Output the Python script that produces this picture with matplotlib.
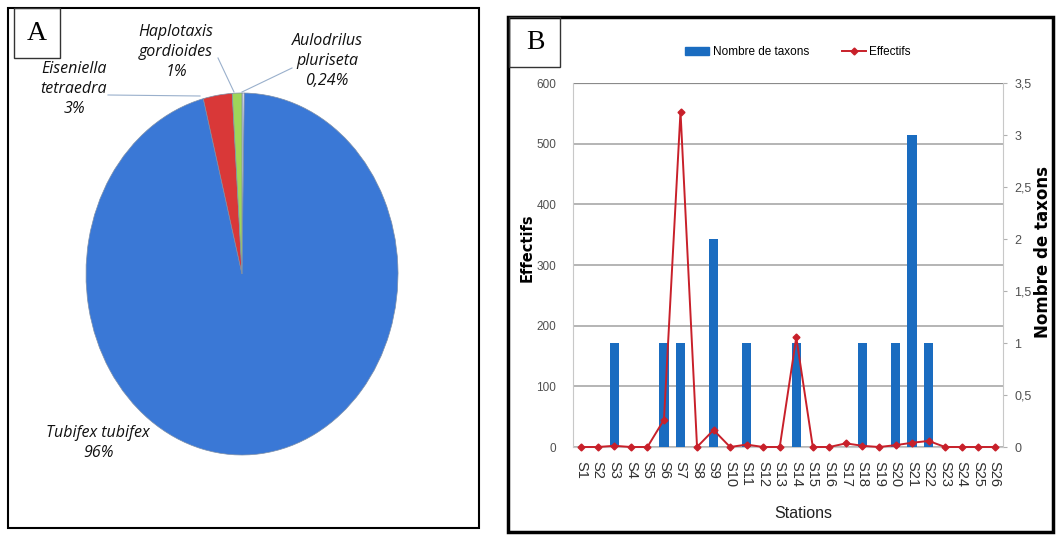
import numpy as np
import matplotlib.pyplot as plt
from matplotlib.patches import Rectangle, Patch
from matplotlib.lines import Line2D

narrow = 'Liberation Sans'

# Panel A data (pie)
species = ['Aulodrilus\npluriseta', 'Tubifex tubifex', 'Eiseniella\ntetraedra', 'Haplotaxis\ngordioides']
percent = [0.24, 96, 3, 1]
pct_labels = ['0,24%', '96%', '3%', '1%']
pie_colors = ['#dcdce8', '#3a78d6', '#d93838', '#9fd55a']

# Panel B data
stations = ['S%d' % i for i in range(1, 27)]
effectifs = [0, 0, 2, 0, 0, 45, 553, 0, 28, 0, 4, 0, 0, 181, 0, 0, 6, 2, 0, 3, 7, 10, 0, 0, 0, 0]
taxons = [0, 0, 1, 0, 0, 1, 1, 0, 2, 0, 1, 0, 0, 1, 0, 0, 0, 1, 0, 1, 3, 1, 0, 0, 0, 0]

W, H = 1057, 536
fig = plt.figure(figsize=(W / 100, H / 100), dpi=100)


def fx(px):
    return px / W


def fy(py):
    return 1 - py / H


# ---------------- Panel A ----------------
fig.add_artist(Rectangle((fx(8), fy(528)), fx(471), 520 / H, transform=fig.transFigure,
                         fill=False, lw=1.5, ec='black'))
fig.add_artist(Rectangle((fx(14), fy(58)), fx(46), 50 / H, transform=fig.transFigure,
                         fill=False, lw=1, ec='#333333'))
fig.text(fx(37), fy(34), 'A', ha='center', va='center', fontsize=20, family='Liberation Serif')

cx, cy, rx, ry = 242, 274, 156, 181
axp = fig.add_axes([fx(cx - rx), fy(cy + ry), 2 * rx / W, 2 * ry / H])
wedges, _ = axp.pie(percent, colors=pie_colors, startangle=90, counterclock=False,
                    wedgeprops=dict(linewidth=0.5, edgecolor='#7d8fa8'))
axp.set_aspect('auto')
axp.set_xlim(-1, 1)
axp.set_ylim(-1, 1)
axp.axis('off')

lab_font = dict(family='Open Sans', style='italic', fontsize=11.5, color='#111111',
                ha='center', va='center', linespacing=1.3)
fig.text(fx(74), fy(89), species[2] + '\n' + pct_labels[2], **lab_font)
fig.text(fx(176), fy(52), species[3] + '\n' + pct_labels[3], **lab_font)
fig.text(fx(327), fy(61), species[0] + '\n' + pct_labels[0], **lab_font)
fig.text(fx(98), fy(443), species[1] + '\n' + pct_labels[1], **lab_font)

# leader lines
for (x1, y1), (x2, y2) in [((108, 95), (200, 96)), ((218, 58), (234, 92)), ((292, 68), (242, 92))]:
    fig.add_artist(Line2D([fx(x1), fx(x2)], [fy(y1), fy(y2)], transform=fig.transFigure,
                          color='#9ab0cc', lw=0.8))

# ---------------- Panel B ----------------
fig.add_artist(Rectangle((fx(508), fy(532)), fx(545), 515 / H, transform=fig.transFigure,
                         fill=False, lw=2.5, ec='black'))
fig.add_artist(Rectangle((fx(509), fy(67)), fx(51), 50 / H, transform=fig.transFigure,
                         fill=False, lw=1, ec='#333333'))
fig.text(fx(535), fy(42), 'B', ha='center', va='center', fontsize=20, family='Liberation Serif')

pos = [fx(573), fy(447), 430 / W, 364 / H]
x = np.arange(1, len(stations) + 1)

ax = fig.add_axes(pos)
ax.set_xlim(0.5, 26.5)
ax.set_ylim(0, 600)
ax.set_yticks(range(0, 601, 100))
ax.grid(axis='y', color='#a8a8a8', lw=1.2)
ax.set_axisbelow(True)
for s in ['top', 'right']:
    ax.spines[s].set_visible(False)
ax.spines['left'].set_color('#c8c8c8')
ax.spines['bottom'].set_color('#c8c8c8')
ax.tick_params(axis='y', length=0, pad=12, labelsize=8.5, labelcolor='#505050')
for t in ax.get_yticklabels():
    t.set_family(narrow)
ax.set_xticks(x)
ax.set_xticklabels(stations, rotation=270, fontsize=10.5, family=narrow, color='#303030')
ax.tick_params(axis='x', length=0, pad=10)
ax.axhline(600, color='#8a8a8a', lw=1.6)
fig.text(fx(527), fy(248), 'Effectifs', rotation=90, ha='center', va='center',
         fontsize=10.5, fontweight='bold', family='DejaVu Sans')
fig.text(fx(803), fy(514), 'Stations', ha='center', va='center',
         fontsize=11.5, family=narrow, color='#222222')

ax2 = ax.twinx()
ax2.bar(x, taxons, width=0.57, color='#1a6cc0', zorder=2)
ax2.set_ylim(0, 3.5)
ax2.set_yticks(np.arange(0, 3.51, 0.5))
ax2.set_yticklabels(['0', '0,5', '1', '1,5', '2', '2,5', '3', '3,5'], family=narrow)
ax2.tick_params(axis='y', length=3, color='#b0b0b0', pad=5, labelsize=9, labelcolor='#505050')
for s in ['top', 'left', 'bottom']:
    ax2.spines[s].set_visible(False)
ax2.spines['right'].set_color('#c8c8c8')
fig.text(fx(1043), fy(252), 'Nombre de taxons', rotation=90, ha='center', va='center',
         fontsize=12, fontweight='bold', family='DejaVu Sans')

ax3 = ax.twinx()
ax3.set_ylim(0, 600)
ax3.plot(x, effectifs, color='#c8202a', lw=1.4, marker='D', markersize=3.5, clip_on=False)
ax3.axis('off')

handles = [Patch(color='#1a6cc0'),
           Line2D([], [], color='#c8202a', lw=1.4, marker='D', markersize=3.5)]
fig.legend(handles, ['Nombre de taxons', 'Effectifs'], loc='center',
           bbox_to_anchor=(fx(798), fy(52)), ncol=2, frameon=False, columnspacing=2.8,
           handlelength=2.0, handletextpad=0.3, prop=dict(family=narrow, size=8.5))

fig.savefig('out.png', dpi=100)
